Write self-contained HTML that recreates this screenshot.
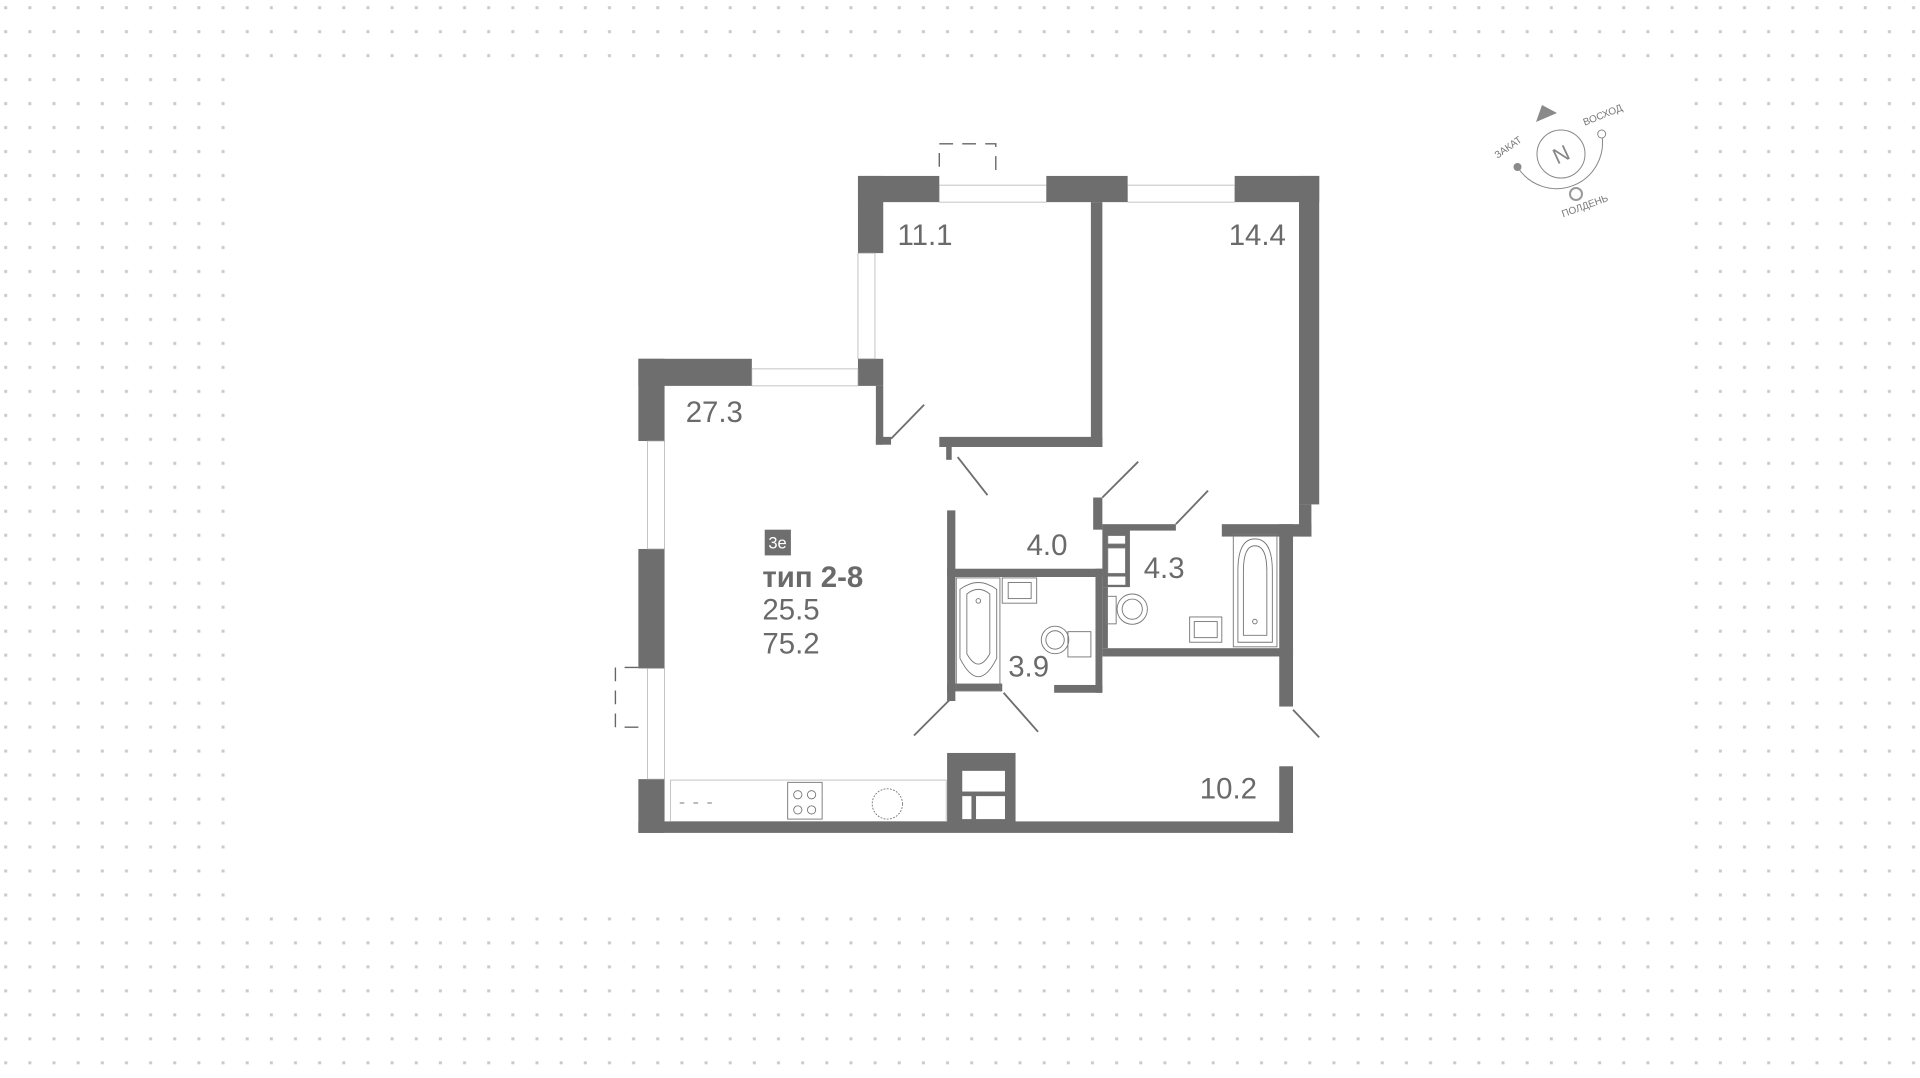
<!DOCTYPE html>
<html><head><meta charset="utf-8"><style>
html,body{margin:0;padding:0;background:#fff;}
svg{display:block;}
text{font-family:"Liberation Sans","DejaVu Sans",sans-serif;}
</style></head><body>
<svg width="1920" height="1078" viewBox="0 0 1920 1078" xmlns="http://www.w3.org/2000/svg">
<defs>
<pattern id="dots" x="0" y="0" width="24.15" height="23.98" patternUnits="userSpaceOnUse">
<rect x="4.2" y="6.2" width="3" height="3" fill="#cacaca"/>
</pattern>
</defs>
<rect x="0" y="0" width="1920" height="68" fill="url(#dots)"/>
<rect x="0" y="68" width="236" height="840" fill="url(#dots)"/>
<rect x="1684" y="68" width="236" height="840" fill="url(#dots)"/>
<rect x="0" y="908" width="1920" height="170" fill="url(#dots)"/>

<g transform="translate(620,130) scale(0.4594)">
<g fill="#6e6e6e">
<rect x="40" y="498" width="57" height="179"/>
<rect x="40" y="912" width="57" height="260"/>
<rect x="40" y="1413" width="57" height="117"/>
<rect x="40" y="498" width="247" height="59"/>
<rect x="518" y="498" width="55" height="59"/>
<rect x="518" y="100" width="55" height="168"/>
<rect x="518" y="100" width="177" height="57"/>
<rect x="928" y="100" width="177" height="57"/>
<rect x="1338" y="100" width="184" height="57"/>
<rect x="1478" y="100" width="44" height="715"/>
<rect x="1478" y="815" width="27" height="70"/>
<rect x="1310" y="858" width="195" height="27"/>
<rect x="1435" y="858" width="30" height="397"/>
<rect x="1435" y="1385" width="30" height="145"/>
<rect x="40" y="1505" width="1425" height="25"/>
<rect x="1025" y="157" width="25" height="533"/>
<rect x="695" y="668" width="355" height="22"/>
<rect x="710" y="690" width="12" height="28"/>
<rect x="557" y="557" width="16" height="128"/>
<rect x="557" y="668" width="33" height="17"/>
<rect x="712" y="828" width="18" height="415"/>
<rect x="712" y="955" width="338" height="18"/>
<rect x="1035" y="955" width="15" height="270"/>
<rect x="945" y="1208" width="105" height="17"/>
<rect x="712" y="1205" width="120" height="17"/>
<rect x="1030" y="800" width="20" height="70"/>
<rect x="1050" y="858" width="160" height="14"/>
<rect x="1050" y="870" width="60" height="125"/>
<rect x="1050" y="995" width="12" height="133"/>
<rect x="1050" y="1128" width="415" height="18"/>
<rect x="712" y="1356" width="149" height="150"/>
</g>
<g fill="#fff" stroke="#888" stroke-width="1.5">
<rect x="1062" y="883" width="38" height="18"/>
<rect x="1062" y="910" width="38" height="55"/>
<rect x="1062" y="972" width="38" height="18" stroke="none"/>
<rect x="745" y="1395" width="93" height="45" stroke="none"/>
<rect x="745" y="1450" width="20" height="50" stroke="none"/>
<rect x="775" y="1450" width="63" height="50" stroke="none"/>
</g>
<g fill="none" stroke="#aaa" stroke-width="1.5">
<rect x="287" y="520" width="231" height="37"/>
<rect x="518" y="268" width="37" height="230"/>
<rect x="695" y="120" width="233" height="37"/>
<rect x="1105" y="120" width="233" height="37"/>
<rect x="60" y="677" width="37" height="235"/>
<rect x="60" y="1172" width="37" height="241"/>
<path d="M695 80 V30 H818 V100" stroke="#666" stroke-width="3" stroke-dasharray="30,20"/>
<path d="M40 1170 H-10 V1300 H40" stroke="#666" stroke-width="3" stroke-dasharray="30,20"/>
<rect x="110" y="1415" width="600" height="90"/>
</g>
<g stroke="#6e6e6e" stroke-width="4" fill="none">
<line x1="590" y1="672" x2="662" y2="598"/>
<line x1="735" y1="712" x2="800" y2="795"/>
<line x1="1050" y1="800" x2="1128" y2="722"/>
<line x1="1210" y1="858" x2="1280" y2="785"/>
<line x1="718" y1="1240" x2="640" y2="1318"/>
<line x1="835" y1="1225" x2="910" y2="1310"/>
<line x1="1465" y1="1262" x2="1522" y2="1322"/>
</g>
<g fill="none" stroke="#777" stroke-width="2">
<rect x="732" y="975" width="95" height="245"/>
<path d="M740 1000 Q780 970 820 1000 V1150 Q780 1230 740 1150 Z"/>
<path d="M755 1010 Q780 990 805 1010 V1140 Q780 1185 755 1140 Z"/>
<circle cx="780" cy="1025" r="5"/>
<rect x="832" y="975" width="75" height="55"/>
<rect x="845" y="985" width="50" height="35"/>
<circle cx="947" cy="1110" r="30"/>
<circle cx="947" cy="1110" r="20"/>
<rect x="975" y="1092" width="50" height="55"/>
<rect x="1058" y="1015" width="22" height="60"/>
<circle cx="1115" cy="1043" r="33"/>
<circle cx="1115" cy="1043" r="22"/>
<rect x="1240" y="1060" width="70" height="55"/>
<rect x="1250" y="1070" width="50" height="35"/>
<rect x="1335" y="880" width="95" height="245"/>
<path d="M1345 960 Q1345 890 1382 890 Q1420 890 1420 960 V1115 H1345 Z"/>
<path d="M1357 960 Q1357 905 1382 905 Q1408 905 1408 960 V1100 H1357 Z"/>
<circle cx="1382" cy="1070" r="5"/>
<rect x="365" y="1420" width="75" height="80"/>
<circle cx="387" cy="1447" r="9"/><circle cx="417" cy="1447" r="9"/>
<circle cx="387" cy="1480" r="9"/><circle cx="417" cy="1480" r="9"/>
<circle cx="582" cy="1467" r="33" stroke-dasharray="4,3"/>
<path d="M130 1465 h10 M160 1465 h10 M190 1465 h10"/>
</g>
<g fill="#6a6a6a" font-size="64">
<text x="604" y="250">11.1</text>
<text x="1325" y="250">14.4</text>
<text x="143" y="636">27.3</text>
<text x="885" y="925">4.0</text>
<text x="1140" y="975">4.3</text>
<text x="845" y="1190">3.9</text>
<text x="1262" y="1455">10.2</text>
</g>
<rect x="315" y="870" width="57" height="56" fill="#6e6e6e"/>
<text x="343" y="911" font-size="36" fill="#fff" text-anchor="middle">3е</text>
<g fill="#6a6a6a" font-size="64">
<text x="310" y="995" font-weight="bold">тип 2-8</text>
<text x="310" y="1065">25.5</text>
<text x="310" y="1140">75.2</text>
</g>
</g>

<g>
<polygon points="1542,105 1557,113 1536,122" fill="#8a8a8a"/>
<circle cx="1561" cy="154" r="24" fill="none" stroke="#888" stroke-width="1"/>
<text x="1561" y="162" font-size="22" fill="#888" text-anchor="middle" transform="rotate(-25 1561 154)">N</text>
<path d="M1517.5 167 A46 46 0 0 0 1601.7 134" fill="none" stroke="#888" stroke-width="1"/>
<circle cx="1517.5" cy="167" r="4" fill="#8a8a8a"/>
<circle cx="1601.7" cy="134" r="4" fill="#fff" stroke="#888" stroke-width="1"/>
<circle cx="1576" cy="194" r="6" fill="#fff" stroke="#999" stroke-width="2"/>
<text x="1510" y="150" font-size="10" fill="#777" text-anchor="middle" transform="rotate(-35 1510 150)">ЗАКАТ</text>
<text x="1604" y="118" font-size="10" fill="#777" text-anchor="middle" transform="rotate(-22 1604 118)">ВОСХОД</text>
<text x="1586" y="209" font-size="10" fill="#777" text-anchor="middle" transform="rotate(-20 1586 209)">ПОЛДЕНЬ</text>
</g>
</svg>
</body></html>
